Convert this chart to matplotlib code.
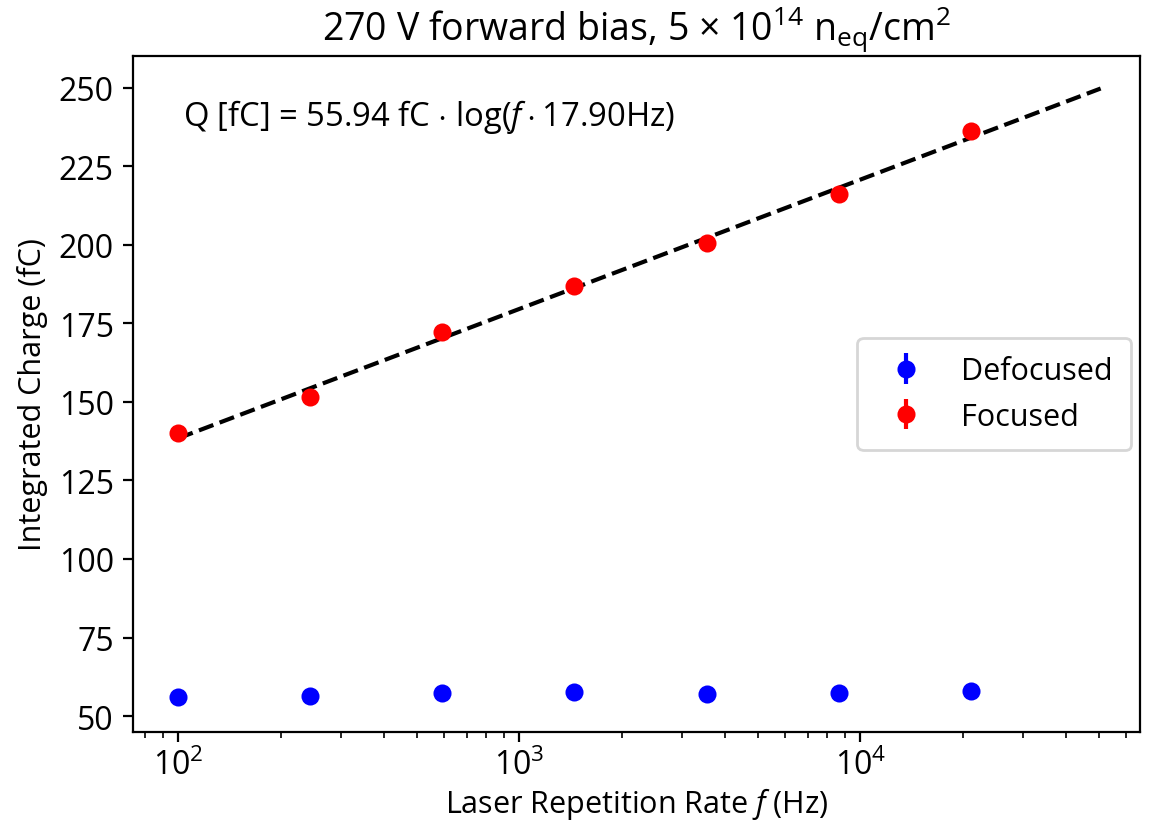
import matplotlib.pyplot as plt

plt.rcParams['font.family'] = ['Open Sans', 'DejaVu Sans']
plt.rcParams['mathtext.fontset'] = 'custom'
plt.rcParams['mathtext.rm'] = 'Open Sans'
plt.rcParams['mathtext.it'] = 'Open Sans:italic'

# laser repetition rate (Hz)
freq = [100, 244, 595, 1450, 3540, 8640, 21100]
# integrated charge (fC)
focused = [140.0, 151.5, 172.3, 186.8, 200.4, 216.0, 236.2]
defocused = [56.0, 56.3, 57.3, 57.7, 57.0, 57.3, 58.0]
err_f = [0.6, 0.6, 0.6, 0.6, 0.6, 0.6, 0.6]
err_d = [0.4, 0.4, 0.4, 0.4, 0.4, 0.4, 0.4]

# fit line end points
fit_x = [100, 50600]
fit_y = [138.4, 249.7]

fig = plt.figure(figsize=(5.795, 4.14), dpi=200)
ax = fig.add_axes([0.115, 0.115, 0.869, 0.816])

ax.errorbar(freq, defocused, yerr=err_d, fmt='o', color='blue', ms=5.5, label='Defocused')
ax.errorbar(freq, focused, yerr=err_f, fmt='o', color='red', ms=5.5, label='Focused')
ax.plot(fit_x, fit_y, 'k--', lw=1.5)

ax.set_xscale('log')
ax.set_xlim(73.8, 66200)
ax.set_ylim(45, 260)

ax.text(0.049, 0.94, r'Q [fC] = 55.94 fC $\cdot$ log($f\cdot$17.90Hz)', transform=ax.transAxes,
        fontsize=11.8, va='top')

ax.set_title(r'270 V forward bias, 5 $\times$ 10$^{14}$ n$_{\rm eq}$/cm$^2$', fontsize=13.5)
ax.set_xlabel(r'Laser Repetition Rate $f$ (Hz)', fontsize=11, labelpad=1)
ax.set_ylabel('Integrated Charge (fC)', fontsize=11)
ax.tick_params(labelsize=11.5)
ax.tick_params(axis='x', pad=2.5)
ax.legend(loc='center right', fontsize=11, borderpad=0.6, borderaxespad=0.3,
          edgecolor='#cccccc')

plt.savefig('out.png')
